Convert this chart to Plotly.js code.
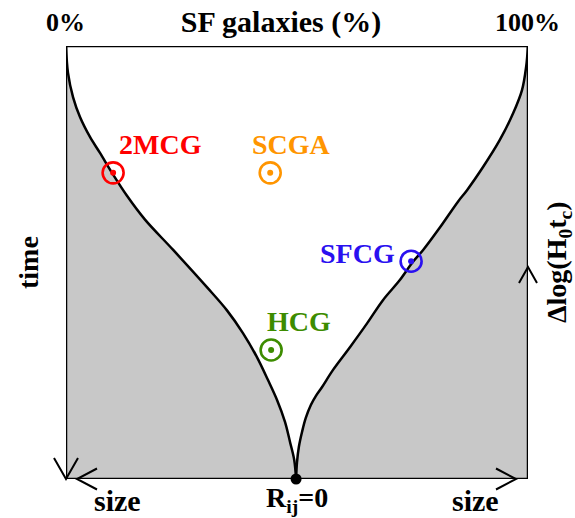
<!DOCTYPE html>
<html><head><meta charset="utf-8">
<script src="https://cdn.plot.ly/plotly-3.0.1.min.js"></script>
<style>html,body{margin:0;padding:0;background:#fff}</style>
</head><body>
<div id="chart" style="width:575px;height:518px"></div>
<script>
// --- data (schematic; x = SF galaxies %, y = time scale 0..100) ---
const leftCurveX  = [0, 0.43, 1.52, 3.03, 5.19, 7.36, 9.96, 13.2, 17.1, 23.2, 30.5, 34.8, 38.3, 41.3, 43.7, 45.7, 47.4, 48.5, 49.4, 49.8];
const leftCurveY  = [100, 93.8, 88.2, 83.6, 79.0, 75.3, 70.7, 65.4, 59.9, 52.9, 44.3, 39.0, 33.7, 28.2, 22.9, 18.2, 13.2, 8.5, 4.4, 0];
const rightCurveX = [49.8, 50.0, 50.4, 51.1, 51.9, 53.0, 54.1, 55.4, 57.8, 61.5, 65.2, 68.6, 72.3, 74.9, 77.3, 81.0, 84.8, 86.8, 90.3, 93.9, 96.8, 98.7, 99.6, 100];
const rightCurveY = [0, 3.9, 7.4, 10.9, 14.1, 17.1, 19.2, 21.2, 25.2, 30.5, 36.0, 41.3, 46.0, 49.9, 52.9, 58.2, 64.0, 66.7, 72.1, 78.3, 84.5, 89.8, 95.2, 100];
const groupNames  = ['2MCG', 'SCGA', 'SFCG', 'HCG'];
const groupX      = [10.2, 44.2, 74.7, 44.4];
const groupY      = [70.7, 70.7, 50.3, 29.8];
const originX     = [49.8];
const originY     = [0];
const groupColors = ['#ff0000', '#ff9500', '#2a10f0', '#3d8c00'];
const labelShiftX = [47, 21, -54, 28];
const labelShiftY = [28, 28, 8, 28];

const FONT = 'Liberation Serif, Times New Roman, serif';
const GRAY = '#c8c8c8';
const W = 575, H = 518, L = 66, R = 47, T = 46, B = 39;
const pw = W - L - R, ph = H - T - B;
// pixel -> paper helpers (for decorations only)
const paperX = px => (px - L) / pw;
const paperY = py => (H - B - py) / ph;

const traces = [
  { x: leftCurveX, y: leftCurveY, mode: 'lines', line: {color: 'black', width: 2.5, shape: 'spline', smoothing: 1},
    fill: 'tozerox', fillcolor: GRAY, hoverinfo: 'skip' },
  { x: rightCurveY.map(() => 100), y: rightCurveY, mode: 'lines', line: {width: 0, color: GRAY}, hoverinfo: 'skip' },
  { x: rightCurveX, y: rightCurveY, mode: 'lines', line: {color: 'black', width: 2.5, shape: 'spline', smoothing: 1},
    fill: 'tonextx', fillcolor: GRAY, hoverinfo: 'skip' },
  { x: groupX, y: groupY, mode: 'markers', cliponaxis: false,
    marker: {symbol: 'circle-open', size: 21, color: groupColors, line: {width: 2.6, color: groupColors}} },
  { x: groupX, y: groupY, mode: 'markers', cliponaxis: false,
    marker: {symbol: 'circle', size: 6, color: groupColors} },
  { x: originX, y: originY, mode: 'markers', cliponaxis: false,
    marker: {symbol: 'circle', size: 11, color: 'black'} }
];

// chevron arrows (decorations), given in pixels, drawn in paper coords (not clipped)
function chevron(tx, ty, dir, aw, al) {
  let p;
  if (dir === 'down')  p = [[tx - aw, ty - al], [tx, ty], [tx + aw, ty - al]];
  if (dir === 'up')    p = [[tx - aw, ty + al], [tx, ty], [tx + aw, ty + al]];
  if (dir === 'left')  p = [[tx + al, ty - aw], [tx, ty], [tx + al, ty + aw]];
  if (dir === 'right') p = [[tx - al, ty - aw], [tx, ty], [tx - al, ty + aw]];
  const q = p.map(([a, b]) => [paperX(a), paperY(b)]);
  return { type: 'path', xref: 'paper', yref: 'paper', layer: 'above',
    path: `M${q[0][0]},${q[0][1]} L${q[1][0]},${q[1][1]} L${q[2][0]},${q[2][1]}`,
    line: {color: 'black', width: 2} };
}

const shapes = [
  { type: 'rect', xref: 'x', yref: 'y', x0: 0, x1: 100, y0: 0, y1: 100, layer: 'above',
    line: {color: 'black', width: 2.5} },
  chevron(66, 479, 'down', 12, 21),
  chevron(77, 479, 'left', 10.5, 20),
  chevron(516, 479, 'right', 10.5, 20),
  chevron(528, 267, 'up', 9, 16)
];

const annotations = groupNames.map((n, i) => ({
  x: groupX[i], y: groupY[i], xref: 'x', yref: 'y', showarrow: false,
  xshift: labelShiftX[i], yshift: labelShiftY[i],
  text: '<b>' + n + '</b>', font: {family: FONT, size: 28, color: groupColors[i]}
}));
const txt = (s, px, py, size, angle) => ({
  xref: 'paper', yref: 'paper', x: paperX(px), y: paperY(py), showarrow: false,
  xanchor: 'center', yanchor: 'middle', textangle: angle || 0,
  text: '<b>' + s + '</b>', font: {family: FONT, size: size, color: 'black'}
});
annotations.push(
  txt('0%', 65, 23, 26),
  txt('100%', 527, 23, 26),
  txt('time', 28, 263, 28, -90),
  txt('Δlog(H<sub>0</sub>t<sub>c</sub>)', 558, 262, 28, -90),
  txt('size', 117, 500, 30),
  txt('size', 475, 500, 30),
  txt('R<sub>ij</sub>=0', 297, 499, 28)
);

const layout = {
  width: W, height: H,
  margin: {l: L, r: R, t: T, b: B, pad: 0},
  paper_bgcolor: 'white', plot_bgcolor: 'white',
  showlegend: false,
  title: {text: '<b>SF galaxies (%)</b>', x: 281 / W, xanchor: 'center', y: 1 - 21 / H, yanchor: 'middle',
          font: {family: FONT, size: 30, color: 'black'}},
  xaxis: {range: [0, 100], visible: false, fixedrange: true},
  yaxis: {range: [0, 100], visible: false, fixedrange: true},
  shapes: shapes,
  annotations: annotations
};

Plotly.newPlot('chart', traces, layout, {displayModeBar: false, staticPlot: true});
</script>
</body></html>
